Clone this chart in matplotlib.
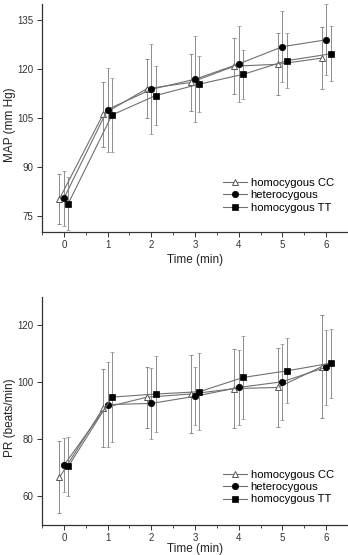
import matplotlib
matplotlib.use("Agg")
import matplotlib.pyplot as plt
from matplotlib.lines import Line2D
import numpy as np

plt.rcParams['font.family'] = ['Liberation Sans', 'DejaVu Sans']

time = [0, 1, 2, 3, 4, 5, 6]
series_names = ["homocygous CC", "heterocygous", "homocygous TT"]

# MAP (mm Hg)
map_cc = [80.2, 106.2, 114.0, 115.9, 120.9, 121.5, 123.4]
map_cc_err = [7.6, 10.0, 9.0, 8.6, 8.6, 9.5, 9.5]
map_het = [80.3, 107.6, 113.8, 116.9, 121.6, 126.9, 129.0]
map_het_err = [8.5, 12.9, 13.8, 13.2, 11.7, 10.8, 10.9]
map_tt = [78.7, 105.9, 111.9, 115.4, 118.4, 122.6, 124.7]
map_tt_err = [8.2, 11.3, 9.2, 8.5, 7.5, 8.4, 8.4]

# PR (beats/min)
pr_cc = [66.7, 91.0, 94.8, 95.9, 97.8, 98.2, 105.5]
pr_cc_err = [12.6, 13.8, 10.7, 13.6, 13.7, 13.7, 18.0]
pr_het = [70.9, 92.2, 92.6, 95.1, 98.2, 100.2, 105.3]
pr_het_err = [9.5, 14.9, 12.5, 10.2, 13.0, 13.4, 13.2]
pr_tt = [70.5, 94.8, 95.9, 96.7, 101.7, 104.0, 106.7]
pr_tt_err = [10.2, 15.7, 13.3, 13.5, 14.4, 11.4, 12.1]

map_ticks = [75, 90, 105, 120, 135]
pr_ticks = [60, 80, 100, 120]

W, H = 348, 555
fig = plt.figure(figsize=(W / 100, H / 100), dpi=100)

line_col = '#707070'
err_col = '#8c8c8c'
offsets = [-0.1, 0.0, 0.1]
styles = [
    dict(marker='^', mfc='white', mec='#555555', ms=5.0, mew=0.7),
    dict(marker='o', mfc='black', mec='black', ms=4.6, mew=0.5),
    dict(marker='s', mfc='black', mec='black', ms=3.8, mew=0.5),
]


def panel(rect, data, errs, ylim, yticks, ylabel, ylab_y, leg_y, xlab_y):
    ax = fig.add_axes(rect)
    t = np.array(time, dtype=float)
    for (vals, e, off, st) in zip(data, errs, offsets, styles):
        ax.errorbar(t + off, vals, yerr=e, color=line_col, ecolor=err_col,
                    elinewidth=0.7, capsize=1.3, capthick=0.7, lw=0.8,
                    zorder=3, **st)
    ax.set_xlim(-0.5, 6.5)
    ax.set_ylim(*ylim)
    ax.set_xticks(time)
    ax.set_xticks(np.arange(-0.5, 6.51, 0.5), minor=True)
    ax.set_yticks(yticks)
    ax.spines['top'].set_visible(False)
    ax.spines['right'].set_visible(False)
    for s in ('left', 'bottom'):
        ax.spines[s].set_linewidth(0.9)
        ax.spines[s].set_color('#333333')
    ax.tick_params(axis='both', which='major', direction='out', length=3.5,
                   width=0.7, labelsize=7, colors='#333333', pad=2.5)
    ax.tick_params(axis='x', which='minor', direction='out', length=2, width=0.6,
                   colors='#333333')
    ax.tick_params(axis='y', which='minor', left=False)
    ax.set_xlabel('Time (min)', fontsize=8.5, color='#222222', va='center')
    ax.set_ylabel(ylabel, fontsize=8.5, color='#222222', va='center')
    ax.xaxis.set_label_coords(0.5, xlab_y)
    ax.yaxis.set_label_coords(-0.105, ylab_y)
    handles = [Line2D([], [], color=line_col, lw=0.8, **st) for st in styles]
    ax.legend(handles, series_names, frameon=False, fontsize=8.1,
              loc='lower left', bbox_to_anchor=(0.59, leg_y),
              handlelength=2.2, handletextpad=0.3, labelspacing=0.22,
              borderaxespad=0.0, borderpad=0.0, numpoints=1)
    return ax


left = 42 / W
width = 1 - left
ax1 = panel([left, 1 - 232 / H, width, 228 / H],
            [map_cc, map_het, map_tt], [map_cc_err, map_het_err, map_tt_err],
            (70, 140), map_ticks, 'MAP (mm Hg)', 0.47, 0.085, -0.123)
ax2 = panel([left, 1 - 525 / H, width, 228.3 / H],
            [pr_cc, pr_het, pr_tt], [pr_cc_err, pr_het_err, pr_tt_err],
            (50, 130), pr_ticks, 'PR (beats/min)', 0.47, 0.09, -0.107)

fig.savefig('out.png', dpi=100)
